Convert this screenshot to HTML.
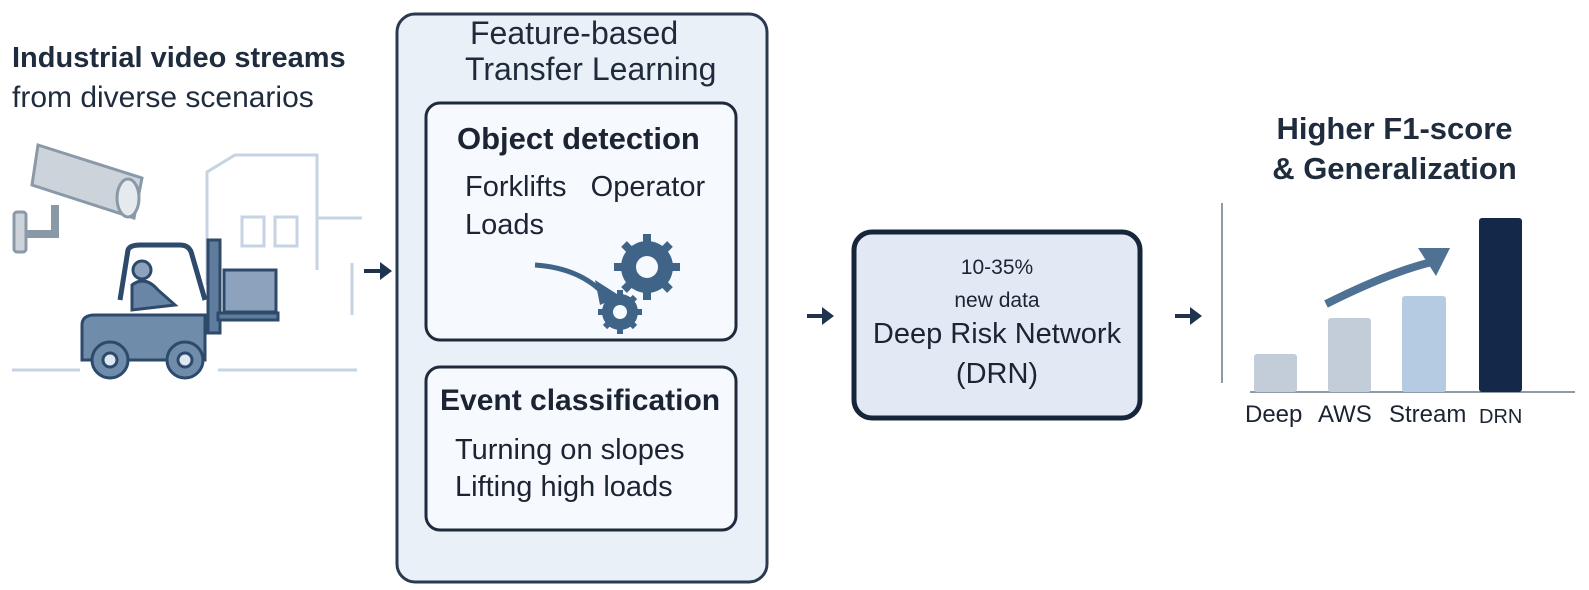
<!DOCTYPE html>
<html><head><meta charset="utf-8"><style>
html,body{margin:0;padding:0;background:#fff;}
body{width:1589px;height:590px;position:relative;overflow:hidden;font-family:"Liberation Sans",sans-serif;color:#1c2433;}
.t{position:absolute;white-space:nowrap;}
</style></head><body>
<svg width="1589" height="590" style="position:absolute;left:0;top:0">
<g fill="none" stroke="#c5d3e2" stroke-width="3">
<polyline points="207,285 207,172 235,155 317,155 317,270"/>
<line x1="317" y1="218" x2="362" y2="218"/>
<line x1="352" y1="263" x2="352" y2="315"/>
<rect x="242" y="217" width="22" height="29"/>
<rect x="275" y="217" width="22" height="29"/>
<line x1="12" y1="370" x2="80" y2="370"/>
<line x1="218" y1="370" x2="357" y2="370"/>
</g>
<g stroke="#8a99a8" stroke-width="3" fill="#cdd3da">
<rect x="14" y="212" width="12" height="40" rx="3"/>
<path d="M26 234 H55 V205" fill="none" stroke-width="8"/>
<path d="M38 145 L142 178 L134 218 L32 185 Z" />
<ellipse cx="128" cy="198" rx="11" ry="19" fill="#e6eaef"/>
</g>
<g stroke="#2d4a6b" stroke-width="3" fill="#8da3bd">
<rect x="208" y="240" width="12" height="93" fill="#5f7c9c"/>
<rect x="224" y="270" width="52" height="42" fill="#8da3bd"/>
<rect x="218" y="313" width="60" height="7" fill="#5f7c9c"/>
<path d="M120 300 L128 250 Q130 245 140 245 L180 245 Q190 245 192 255 L205 300" fill="none" stroke-width="5"/>
<circle cx="142" cy="270" r="9" fill="#8da3bd"/>
<path d="M132 285 Q145 275 158 290 L175 305 L132 310 Z" fill="#6a86a6"/>
<path d="M82 325 Q82 315 95 315 L205 315 L205 360 L82 360 Z" fill="#6f8cab"/>
<circle cx="110" cy="360" r="18" fill="#6f8cab"/>
<circle cx="110" cy="360" r="7" fill="#dfe7f0"/>
<circle cx="185" cy="360" r="18" fill="#6f8cab"/>
<circle cx="185" cy="360" r="7" fill="#dfe7f0"/>
</g>
<g fill="#1e3350" stroke="#1e3350" stroke-width="4">
<line x1="364" y1="271" x2="382" y2="271"/><path d="M380 262 L392 271 L380 280Z" stroke="none"/>
<line x1="807" y1="316" x2="824" y2="316"/><path d="M822 307 L834 316 L822 325Z" stroke="none"/>
<line x1="1175" y1="316" x2="1192" y2="316"/><path d="M1190 307 L1202 316 L1190 325Z" stroke="none"/>
</g>
<rect x="397" y="14" width="370" height="568" rx="18" fill="#eaf0f8" stroke="#2b3a50" stroke-width="3"/>
<rect x="426" y="103" width="310" height="237" rx="14" fill="#f6f9fd" stroke="#1f2a3c" stroke-width="3"/>
<rect x="426" y="367" width="310" height="163" rx="14" fill="#f6f9fd" stroke="#1f2a3c" stroke-width="3"/>
<g fill="#3f6488">
<path d="M535 265 Q580 268 605 295" stroke="#3f6488" stroke-width="5" fill="none"/>
<path d="M595 280 L620 296 L600 305Z"/>
<circle cx="647" cy="267" r="26"/>
<g stroke="#3f6488" stroke-width="8"><line x1="647" y1="234" x2="647" y2="300"/><line x1="614" y1="267" x2="680" y2="267"/><line x1="624" y1="244" x2="670" y2="290"/><line x1="670" y1="244" x2="624" y2="290"/></g>
<circle cx="647" cy="267" r="11" fill="#f6f9fd"/>
<circle cx="620" cy="312" r="18"/>
<g stroke="#3f6488" stroke-width="6"><line x1="620" y1="290" x2="620" y2="334"/><line x1="598" y1="312" x2="642" y2="312"/><line x1="605" y1="297" x2="635" y2="327"/><line x1="635" y1="297" x2="605" y2="327"/></g>
<circle cx="620" cy="312" r="7" fill="#f6f9fd"/>
</g>
<rect x="854" y="232" width="286" height="186" rx="18" fill="#e2e9f5" stroke="#16253a" stroke-width="5"/>
<line x1="1222" y1="203" x2="1222" y2="383" stroke="#8f9aa6" stroke-width="2"/>
<line x1="1250" y1="392" x2="1575" y2="392" stroke="#8f9aa6" stroke-width="2"/>
<rect x="1254" y="354" width="43" height="38" rx="3" fill="#c2cdd9"/>
<rect x="1328" y="318" width="43" height="74" rx="3" fill="#c2cdd9"/>
<rect x="1402" y="296" width="44" height="96" rx="3" fill="#b5cbe2"/>
<rect x="1479" y="218" width="43" height="174" rx="3" fill="#14294a"/>
<path d="M1326 304 Q1390 272 1432 262" stroke="#4f7193" stroke-width="8" fill="none"/>
<path d="M1418 248 L1450 248 L1436 276Z" fill="#4f7193"/>
</svg>
<div class="t" style="left:12px;top:42px;font-size:29px;font-weight:bold;color:#1f2c3e">Industrial video streams</div>
<div class="t" style="left:12px;top:81px;font-size:30px;color:#1f2c3e">from diverse scenarios</div>
<div class="t" style="left:470px;top:15px;font-size:32px;color:#1f2a3a">Feature-based</div>
<div class="t" style="left:465px;top:51px;font-size:32px;color:#1f2a3a">Transfer Learning</div>
<div class="t" style="left:457px;top:121px;font-size:31px;font-weight:bold">Object detection</div>
<div class="t" style="left:465px;top:171px;font-size:29px">Forklifts&nbsp;&nbsp;&nbsp;Operator</div>
<div class="t" style="left:465px;top:209px;font-size:29px">Loads</div>
<div class="t" style="left:440px;top:384px;font-size:30px;font-weight:bold">Event classification</div>
<div class="t" style="left:455px;top:434px;font-size:29px">Turning on slopes</div>
<div class="t" style="left:455px;top:471px;font-size:29px">Lifting high loads</div>
<div class="t" style="left:854px;width:286px;text-align:center;top:256px;font-size:21px">10-35%</div>
<div class="t" style="left:854px;width:286px;text-align:center;top:289px;font-size:21px">new data</div>
<div class="t" style="left:854px;width:286px;text-align:center;top:318px;font-size:29px">Deep Risk Network</div>
<div class="t" style="left:854px;width:286px;text-align:center;top:358px;font-size:29px">(DRN)</div>
<div class="t" style="left:1200px;width:389px;text-align:center;top:111px;font-size:31px;font-weight:bold;color:#1f2c3e">Higher F1-score</div>
<div class="t" style="left:1200px;width:389px;text-align:center;top:151px;font-size:31px;font-weight:bold;color:#1f2c3e">&amp; Generalization</div>
<div class="t" style="left:1245px;top:401px;font-size:24px">Deep</div>
<div class="t" style="left:1318px;top:401px;font-size:24px">AWS</div>
<div class="t" style="left:1389px;top:401px;font-size:24px">Stream</div>
<div class="t" style="left:1479px;top:406px;font-size:20px">DRN</div>
</body></html>
